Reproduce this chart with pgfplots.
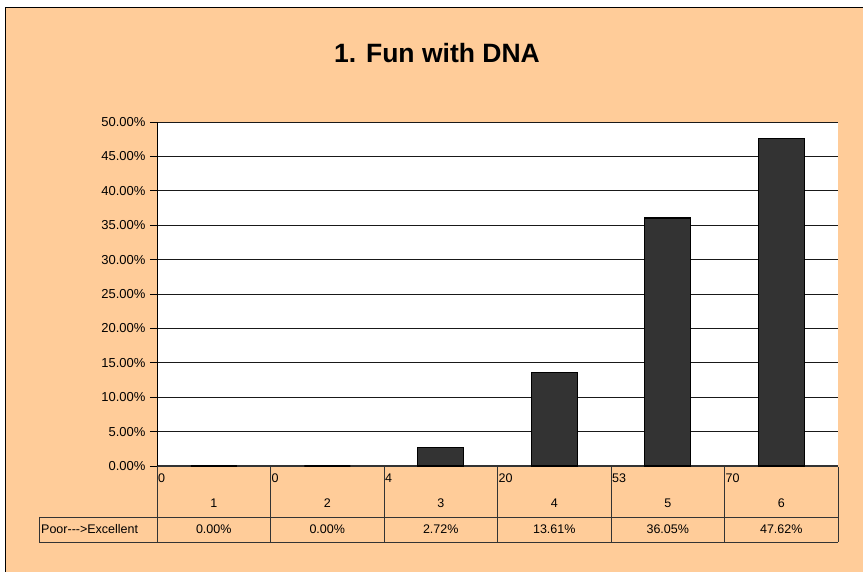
\documentclass[border=0pt]{standalone}
\usepackage{pgfplots}
\pgfplotsset{compat=1.18}
\usepackage{fontspec}
\setmainfont{Liberation Sans}
\definecolor{peach}{HTML}{FFCC99}
\definecolor{barc}{HTML}{333333}
\begin{document}
\begin{tikzpicture}[x=1pt,y=1pt]
\useasboundingbox (0,0) rectangle (863,572);
\fill[white] (0,0) rectangle (863,572);
\fill[peach] (5,0) rectangle (863,564);
\draw[black, line width=1pt] (5,0) -- (5,564) -- (863,564);
\node[font=\fontsize{26.5}{30}\selectfont\bfseries] at (437,519) {1. Fun with DNA};
\begin{axis}[
  at={(157pt,106pt)}, anchor=south west,
  scale only axis, width=681pt, height=344pt,
  xmin=0.5, xmax=6.5, ymin=0, ymax=50,
  axis background/.style={fill=white},
  axis x line=bottom, axis y line=left,
  x axis line style={-, draw=black!80, line width=2pt},
  y axis line style={-, draw=black, line width=0.8pt},
  xtick=\empty,
  ytick={0,5,...,50},
  ymajorgrids, grid style={black!90, line width=0.8pt},
  tick align=outside, major tick length=7pt,
  tick style={black, line width=0.8pt},
  /pgf/number format/assume math mode=true,
  yticklabel={\pgfmathprintnumber[fixed,fixed zerofill,precision=2]{\tick}\%},
  yticklabel style={font=\fontsize{13}{15}\selectfont, xshift=-1pt},
  clip=false,
]
\addplot[ybar, bar width=46pt, fill=barc, draw=black, line width=1.3pt]
  coordinates {(1,0) (2,0) (3,2.72) (4,13.61) (5,36.05) (6,47.62)};
\end{axis}
% data table
\begin{scope}[draw=black!80, line width=0.8pt]
\foreach \i in {0,...,6} { \draw (157+113.5*\i,105) -- (157+113.5*\i,30); }
\draw (39,55) -- (838,55);
\draw (39,30) -- (838,30);
\draw (39,55) -- (39,30);
\end{scope}
\begin{scope}[font=\fontsize{12.5}{14}\selectfont]
\foreach \c [count=\i] in {0,0,4,20,53,70} {
  \node[anchor=west, inner sep=0pt] at (157+113.5*\i-113.5+1,94) {\c};
  \node at (157+113.5*\i-56.75,69) {\i};
}
\foreach \p [count=\i] in {0.00\%,0.00\%,2.72\%,13.61\%,36.05\%,47.62\%} {
  \node at (157+113.5*\i-56.75,43) {\p};
}
\node[anchor=west, inner sep=0pt] at (41,43) {Poor-{}-{}-{}>Excellent};
\end{scope}
\end{tikzpicture}
\end{document}
